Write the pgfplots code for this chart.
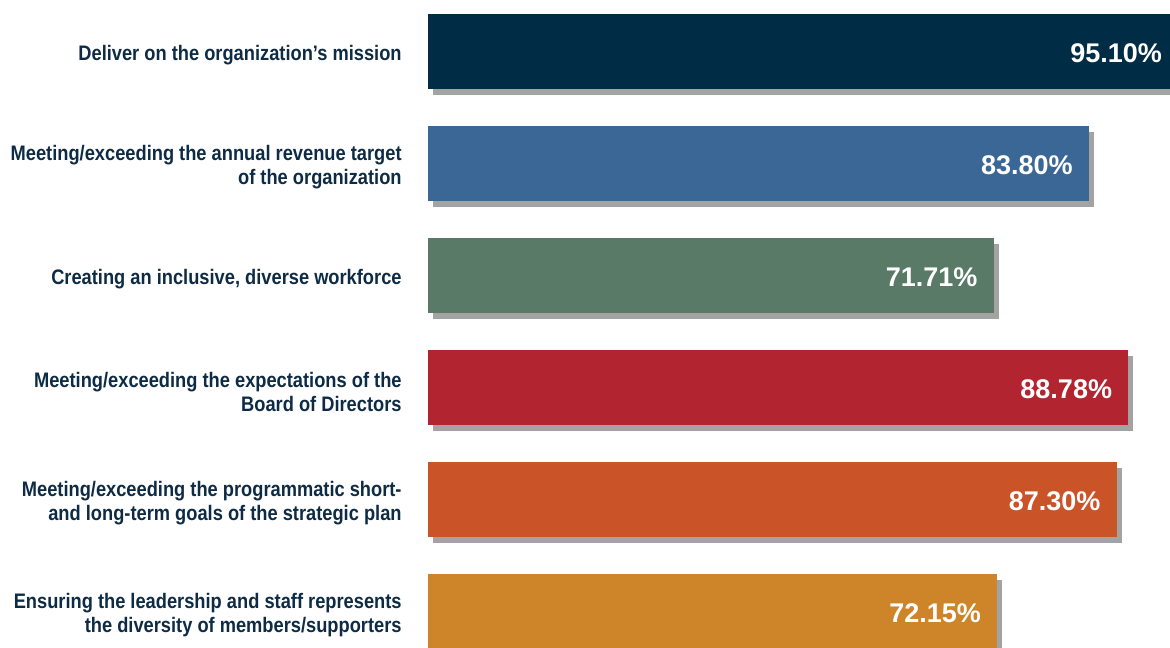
\documentclass[border=0pt]{standalone}
\usepackage{fontspec}
\setmainfont{Liberation Sans}
\newfontfamily\labelfont[FakeStretch=0.87]{Liberation Sans}
\usepackage{pgfplots}
\pgfplotsset{compat=1.18}

\definecolor{navy}{HTML}{002C46}
\definecolor{steel}{HTML}{3A6795}
\definecolor{sage}{HTML}{587A66}
\definecolor{crimson}{HTML}{B22430}
\definecolor{rust}{HTML}{CA5328}
\definecolor{ochre}{HTML}{CE8429}
\definecolor{labeltxt}{HTML}{0D2B45}

\pgfplotsset{
  barstyle/.style={fill=#1, draw=none,
    preaction={fill=black!45, opacity=0.8,
      transform canvas={xshift=2.5pt, yshift=-3pt}}},
}

\begin{document}
\begin{tikzpicture}
\begin{axis}[
    scale only axis,
    width=371pt, height=323.5pt,
    xbar, bar shift=0pt, bar width=37.5pt,
    xmin=0, xmax=94.05,
    ymin=-0.46, ymax=5.317,
    y dir=reverse,
    clip=false,
    axis line style={draw=none},
    major tick length=0pt,
    xtick=\empty,
    ytick={0,...,5},
    yticklabels={
      {Deliver on the organization’s mission},
      {Meeting/exceeding the annual revenue target\\of the organization},
      {Creating an inclusive, diverse workforce},
      {Meeting/exceeding the expectations of the\\Board of Directors},
      {Meeting/exceeding the programmatic short-\\and long-term goals of the strategic plan},
      {Ensuring the leadership and staff represents\\the diversity of members/supporters}},
    yticklabel style={font=\labelfont\bfseries\fontsize{10.5}{12}\selectfont,
      text=labeltxt, align=right, inner sep=0pt, xshift=-13pt, yshift=-2pt},
    point meta=explicit symbolic,
    nodes near coords,
    nodes near coords align={anchor=east},
    every node near coord/.append style={font=\bfseries\fontsize{13.5}{15}\selectfont,
      text=white, xshift=-8pt, yshift=-1pt, inner sep=0pt},
]
\addplot[barstyle=navy] coordinates {(95.10,0) [95.10\%]};
\addplot[barstyle=steel] coordinates {(83.80,1) [83.80\%]};
\addplot[barstyle=sage] coordinates {(71.71,2) [71.71\%]};
\addplot[barstyle=crimson] coordinates {(88.78,3) [88.78\%]};
\addplot[barstyle=rust] coordinates {(87.30,4) [87.30\%]};
\addplot[barstyle=ochre] coordinates {(72.15,5) [72.15\%]};
\end{axis}
\pgfresetboundingbox
\path (current axis.south west) ++(-214pt,0pt) rectangle (current axis.north east);
\end{tikzpicture}
\end{document}
